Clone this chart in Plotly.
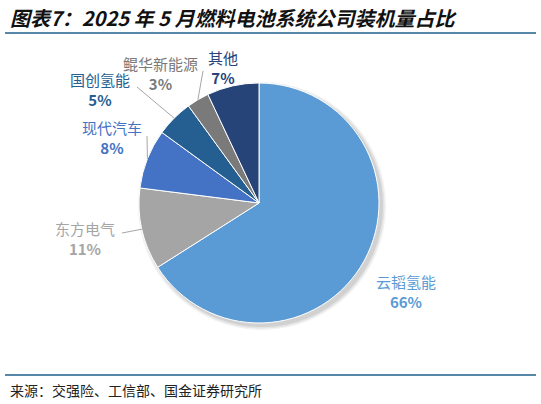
import math
import plotly.graph_objects as go

# data
companies = ['云韬氢能', '东方电气', '现代汽车', '国创氢能', '鲲华新能源', '其他']
shares = [66, 11, 8, 5, 3, 7]
colors = ['#5B9BD5', '#A5A5A5', '#4472C4', '#255E91', '#7A7A7A', '#264478']

W, H = 541, 404
CX, CY, R = 259, 203, 120   # pie centre / radius in pixels

# label centres (px) and leader line ends (px, None = no line)
label_pos = [(406, 291), (85, 238), (112, 137), (100, 90), (160, 74), (223, 67)]
line_end = [None, (122, 233), (147, 136), (137, 87), (203, 71), None]


def px(x, y):
    return x / W, 1 - y / H


def dom(cx, cy, r):
    return dict(x=[(cx - r) / W, (cx + r) / W], y=[1 - (cy + r) / H, 1 - (cy - r) / H])


fig = go.Figure()

# soft drop shadow behind the pie
for grow, alpha in [(4, 0.05), (2.5, 0.06), (1, 0.08)]:
    fig.add_trace(go.Pie(
        values=[1], labels=['shadow'], sort=False,
        marker=dict(colors=[f'rgba(0,0,0,{alpha})'], line=dict(width=0)),
        textinfo='none', hoverinfo='skip', showlegend=False,
        domain=dom(CX + 3, CY + 3, R + grow),
    ))

fig.add_trace(go.Pie(
    labels=companies,
    values=shares,
    sort=False,
    direction='clockwise',
    rotation=0,
    marker=dict(colors=colors, line=dict(color='white', width=1)),
    textinfo='none',
    hoverinfo='label+percent',
    showlegend=False,
    domain=dom(CX, CY, R),
))

annotations = []
shapes = []
total = sum(shares)
cum = 0
for i, (name, v) in enumerate(zip(companies, shares)):
    mid = (cum + v / 2) / total * 2 * math.pi
    cum += v
    ex = CX + R * math.sin(mid)
    ey = CY - R * math.cos(mid)
    lx, ly = label_pos[i]
    pct = round(v / total * 100)
    x, y = px(lx, ly)
    annotations.append(dict(
        x=x, y=y, xref='paper', yref='paper', showarrow=False,
        xanchor='center', yanchor='middle',
        text=f'{name}<br><b>{pct}%</b>', align='center',
        font=dict(family='Noto Sans CJK SC', size=15, color=colors[i]),
    ))
    if line_end[i] is not None:
        x0, y0 = px(*line_end[i])
        x1, y1 = px(ex, ey)
        shapes.append(dict(type='line', xref='paper', yref='paper',
                           x0=x0, y0=y0, x1=x1, y1=y1,
                           line=dict(color='#A6A6A6', width=1)))

# title and source
annotations.append(dict(
    x=8 / W, y=1 - 17 / H, xref='paper', yref='paper', xanchor='left', yanchor='middle',
    showarrow=False, text='<b><i>图表7：2025 年 5 月燃料电池系统公司装机量占比</i></b>',
    font=dict(family='Noto Sans CJK SC', size=20, color='#111111'),
))
annotations.append(dict(
    x=8 / W, y=1 - 390 / H, xref='paper', yref='paper', xanchor='left', yanchor='middle',
    showarrow=False, text='来源：交强险、工信部、国金证券研究所',
    font=dict(family='Noto Sans CJK SC', size=14, color='#222222'),
))

for yy in (33, 375):
    shapes.append(dict(type='line', xref='paper', yref='paper',
                       x0=5 / W, x1=536 / W, y0=1 - yy / H, y1=1 - yy / H,
                       line=dict(color='#1F5F8B', width=1.5)))

fig.update_layout(
    width=W, height=H,
    margin=dict(l=0, r=0, t=0, b=0),
    paper_bgcolor='white',
    plot_bgcolor='white',
    annotations=annotations,
    shapes=shapes,
)

# page body has a default 8px margin; remove it so the figure fills the window
fig.write_html('out.html', config={'displayModeBar': False},
               post_script="document.body.style.margin='0';")
